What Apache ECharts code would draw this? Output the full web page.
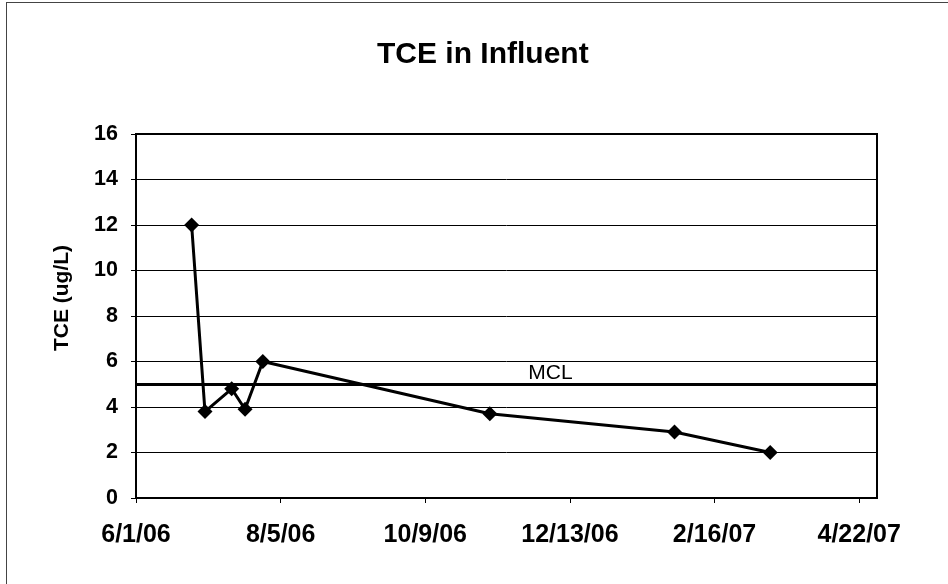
<!DOCTYPE html>
<html>
<head>
<meta charset="utf-8">
<script src="https://cdn.jsdelivr.net/npm/echarts@6/dist/echarts.min.js"></script>
<style>
  html, body { margin: 0; padding: 0; background: #fff; }
  #chart { width: 948px; height: 584px; position: absolute; left: 0; top: 0; }
  #frame { position: absolute; left: 6px; top: 2px; width: 960px; height: 600px;
           border-left: 1px solid #444; border-top: 1px solid #444; pointer-events: none; }
</style>
</head>
<body>
<div id="chart"></div>
<div id="frame"></div>
<script>
// ---- data ----
const sampleDates = ['6/26/06', '7/2/06', '7/14/06', '7/20/06', '7/28/06', '11/7/06', '1/29/07', '3/13/07'];
const tceValues = [12, 3.8, 4.8, 3.9, 6.0, 3.7, 2.9, 2.0];
const xTickLabels = ['6/1/06', '8/5/06', '10/9/06', '12/13/06', '2/16/07', '4/22/07'];
const yTicks = [0, 2, 4, 6, 8, 10, 12, 14, 16];
const mclValue = 5;
const originDate = '6/1/06';
const axisEndDate = '4/30/07';

function toDays(s) {
  const p = s.split('/').map(Number);
  const base = originDate.split('/').map(Number);
  const t = Date.UTC(2000 + p[2], p[0] - 1, p[1]);
  const t0 = Date.UTC(2000 + base[2], base[0] - 1, base[1]);
  return Math.round((t - t0) / 86400000);
}
const tickDays = xTickLabels.map(toDays);
const labelByDay = {};
xTickLabels.forEach((l, i) => { labelByDay[tickDays[i]] = l; });
const seriesData = sampleDates.map((d, i) => [toDays(d), tceValues[i]]);

const FONT = '"Liberation Sans", Arial, Helvetica, sans-serif';
const chart = echarts.init(document.getElementById('chart'), null, { renderer: 'canvas' });
chart.setOption({
  animation: false,
  backgroundColor: '#fff',
  title: {
    text: 'TCE in Influent',
    left: 377, top: 40, padding: 0,
    textStyle: { fontFamily: FONT, fontSize: 30, fontWeight: 'bold', color: '#000' }
  },
  grid: {
    left: 136, right: 71, top: 134, bottom: 86,
    show: true, borderColor: '#000', borderWidth: 2, backgroundColor: 'transparent'
  },
  xAxis: {
    type: 'value',
    min: 0,
    max: toDays(axisEndDate),
    interval: 65,
    axisLine: { show: true, lineStyle: { color: '#000', width: 2 } },
    axisTick: { show: true, inside: false, length: 5, customValues: tickDays, lineStyle: { color: '#000', width: 1 } },
    axisLabel: {
      customValues: tickDays,
      formatter: v => labelByDay[v] || '',
      margin: 25,
      fontFamily: FONT, fontSize: 25, fontWeight: 'bold', color: '#000'
    },
    splitLine: { show: false }
  },
  yAxis: {
    type: 'value',
    min: yTicks[0], max: yTicks[yTicks.length - 1], interval: 2,
    name: 'TCE (ug/L)',
    nameLocation: 'middle',
    nameGap: 63,
    nameTextStyle: { fontFamily: FONT, fontSize: 21, fontWeight: 'bold', color: '#000', padding: [0, 0, 0, 36] },
    axisLine: { show: true, lineStyle: { color: '#000', width: 2 } },
    axisTick: { show: true, inside: false, length: 5, lineStyle: { color: '#000', width: 1 } },
    axisLabel: { margin: 18, fontFamily: FONT, fontSize: 21.5, fontWeight: 'bold', color: '#000' },
    splitLine: { show: true, lineStyle: { color: '#000', width: 1 } }
  },
  series: [{
    type: 'line',
    data: seriesData,
    symbol: 'diamond',
    symbolSize: 15,
    itemStyle: { color: '#000' },
    lineStyle: { color: '#000', width: 3 },
    z: 5,
    markLine: {
      silent: true,
      symbol: ['none', 'none'],
      lineStyle: { color: '#000', width: 3, type: 'solid' },
      label: {
        show: true,
        formatter: 'MCL',
        position: 'insideMiddleTop',
        distance: 1,
        offset: [44, 0],
        fontFamily: FONT, fontSize: 21, fontWeight: 'normal', color: '#000'
      },
      data: [{ yAxis: mclValue }]
    }
  }]
});
</script>
</body>
</html>
